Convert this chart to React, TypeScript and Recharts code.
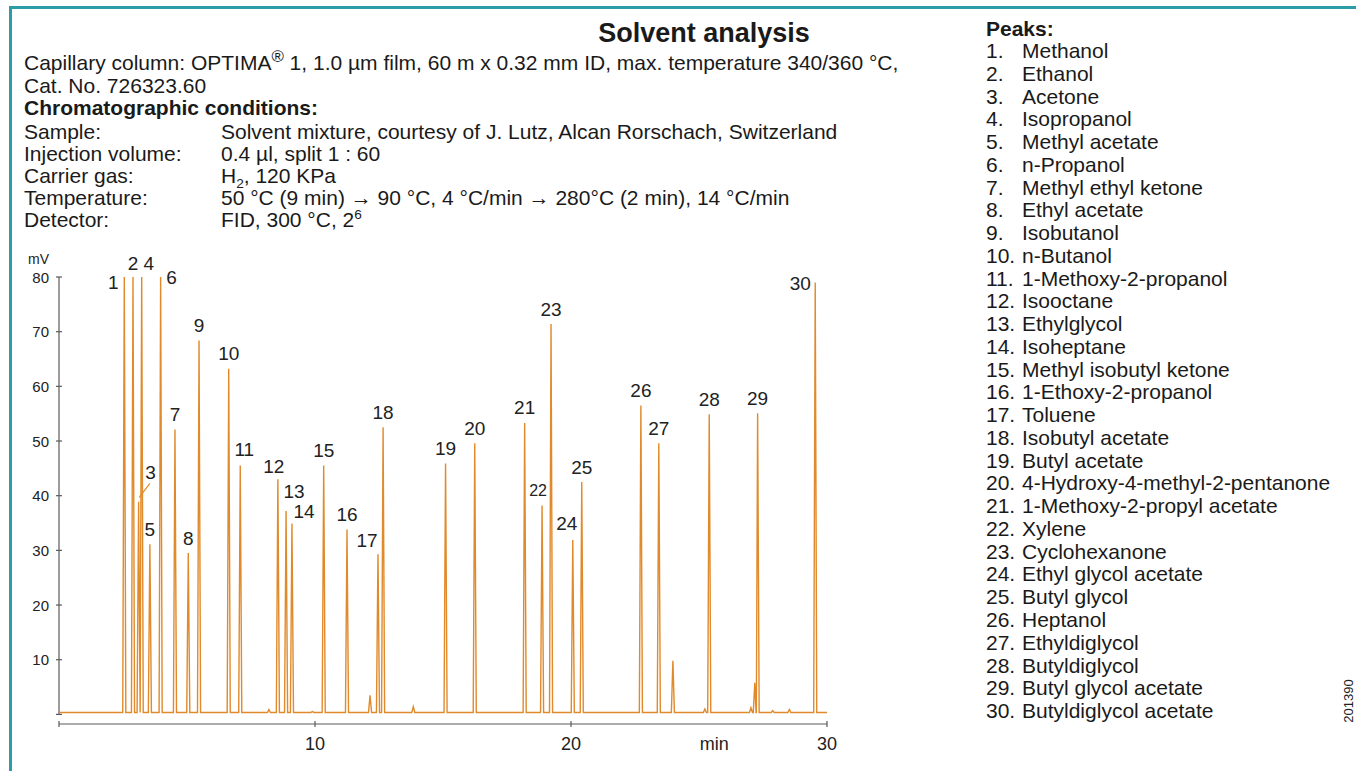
import React from "react";
import { ComposedChart, Line, Scatter, XAxis, YAxis, ReferenceLine } from "recharts";

// retention time (min) and height (mV) of the numbered peaks, 1..30
const peakTimes = [
  2.55, 2.89, 3.11, 3.23, 3.55, 3.97, 4.53, 5.05, 5.47, 6.63,
  7.08, 8.55, 8.87, 9.1, 10.34, 11.25, 12.46, 12.66, 15.1, 16.24,
  18.19, 18.87, 19.22, 20.07, 20.42, 22.73, 23.43, 25.4, 27.29, 29.54,
];
// 1, 2, 4 and 6 run off scale, drawn at the top of the axis
const peakHeights = [
  80, 80, 38.9, 80, 31.1, 80, 52.1, 29.5, 68.4, 63.2,
  45.5, 43.0, 37.2, 34.9, 45.5, 33.8, 29.3, 52.5, 45.9, 49.6,
  53.3, 38.2, 71.4, 31.9, 42.5, 56.5, 49.6, 54.9, 55.1, 79.0,
];
// small unnumbered peaks
const minorTimes = [8.2, 9.9, 12.15, 13.84, 23.98, 25.23, 27.03, 27.18, 27.88, 28.53];
const minorHeights = [0.9, 0.5, 3.5, 1.4, 9.8, 1.0, 1.2, 5.8, 0.7, 0.9];
const baseline = 0.35;

const peakNames = [
  "Methanol", "Ethanol", "Acetone", "Isopropanol", "Methyl acetate",
  "n-Propanol", "Methyl ethyl ketone", "Ethyl acetate", "Isobutanol", "n-Butanol",
  "1-Methoxy-2-propanol", "Isooctane", "Ethylglycol", "Isoheptane", "Methyl isobutyl ketone",
  "1-Ethoxy-2-propanol", "Toluene", "Isobutyl acetate", "Butyl acetate", "4-Hydroxy-4-methyl-2-pentanone",
  "1-Methoxy-2-propyl acetate", "Xylene", "Cyclohexanone", "Ethyl glycol acetate", "Butyl glycol",
  "Heptanol", "Ethyldiglycol", "Butyldiglycol", "Butyl glycol acetate", "Butyldiglycol acetate",
];

const yTicks = [0, 10, 20, 30, 40, 50, 60, 70, 80];
const xTicks = [0, 10, 20, 30];
const xUnitAt = 25.6;

// label offsets (px) from the peak top, default is straight above
const labelShift: Record<number, [number, number]> = {
  1: [-11, 5], 2: [0, -14], 3: [12, -29], 4: [7, -14], 6: [11, 0],
  11: [4, -16], 12: [-4, -13], 13: [8, -19], 14: [12, -12], 17: [-11, -14],
  22: [-4, -15], 24: [-6, -16], 30: [-15, 1],
};

const ORANGE = "#e08a2b";
const AXIS = "#5a5a5a";
const TEAL = "#2e9ca6";
const FONT = '"Liberation Sans", Arial, sans-serif';
const halfWidth = 0.06;

const peaks = peakTimes.map((t, i) => ({ t, v: peakHeights[i], n: i + 1 }));
const minors = minorTimes.map((t, i) => ({ t, v: minorHeights[i], n: 0 }));

const trace: { t: number; v: number }[] = [{ t: 0, v: baseline }];
[...peaks, ...minors].forEach((p) => {
  trace.push({ t: p.t - halfWidth, v: baseline }, { t: p.t, v: p.v }, { t: p.t + halfWidth, v: baseline });
});
trace.push({ t: 30, v: baseline });
trace.sort((a, b) => a.t - b.t);

const PeakLabel = (props: any) => {
  const { cx, cy, payload } = props;
  const n = payload.n;
  const [dx, dy] = labelShift[n] || [0, -15];
  return (
    <g>
      {n === 3 && <line x1={cx + 0.6} y1={cy - 4.4} x2={cx + 11.3} y2={cy - 18.4} stroke={ORANGE} strokeWidth={1.2} />}
      <text x={cx + dx} y={cy + dy} textAnchor="middle" dominantBaseline="central"
        fontSize={n === 22 ? 16 : 19} fontFamily={FONT} fill="#222">{n}</text>
    </g>
  );
};

const YTick = (props: any) => {
  const { x, y, payload } = props;
  return (
    <g>
      <line x1={x - 3} x2={x + 3} y1={y} y2={y} stroke={AXIS} strokeWidth={1.2} />
      {payload.value > 0 && (
        <text x={x - 10} y={y} textAnchor="end" dominantBaseline="central" fontSize={15} fontFamily={FONT} fill="#222">
          {payload.value}
        </text>
      )}
    </g>
  );
};

const XTick = (props: any) => {
  const { x, y, payload } = props;
  if (payload.value === xUnitAt) {
    return <text x={x} y={y + 20} textAnchor="middle" dominantBaseline="central" fontSize={18} fontFamily={FONT} fill="#222">min</text>;
  }
  return (
    <g>
      <line x1={x} x2={x} y1={y - 3} y2={y + 3} stroke={AXIS} strokeWidth={1.2} />
      {payload.value > 0 && (
        <text x={x} y={y + 20} textAnchor="middle" dominantBaseline="central" fontSize={18} fontFamily={FONT} fill="#222">
          {payload.value}
        </text>
      )}
    </g>
  );
};

const Txt = ({ x, y, size = 21, bold = false, children }: any) => (
  <div style={{ position: "absolute", left: x, top: y - 11, height: 22, lineHeight: "22px", fontSize: size,
    fontWeight: bold ? "bold" : "normal", whiteSpace: "nowrap", color: "#1a1a1a", fontFamily: FONT }}>
    {children}
  </div>
);

const supStyle: React.CSSProperties = { fontSize: "0.65em", verticalAlign: "baseline", position: "relative", top: "-0.6em", lineHeight: 0 };
const subStyle: React.CSSProperties = { fontSize: "0.65em", verticalAlign: "baseline", position: "relative", top: "0.35em", lineHeight: 0 };

const conditions: [string, React.ReactNode][] = [
  ["Sample:", "Solvent mixture, courtesy of J. Lutz, Alcan Rorschach, Switzerland"],
  ["Injection volume:", "0.4 µl, split 1 : 60"],
  ["Carrier gas:", <>H<span style={subStyle}>2</span>, 120 KPa</>],
  ["Temperature:", "50 °C (9 min) → 90 °C, 4 °C/min → 280°C (2 min), 14 °C/min"],
  ["Detector:", <>FID, 300 °C, 2<span style={supStyle}>6</span></>],
];

export default function App() {
  return (
    <div style={{ position: "absolute", left: 0, top: 0, width: 1356, height: 771, background: "#fff", overflow: "hidden", fontFamily: FONT }}>
      <div style={{ position: "absolute", left: 9, top: 6, width: 1400, height: 800, borderTop: `3px solid ${TEAL}`, borderLeft: `3px solid ${TEAL}` }} />

      <div style={{ position: "absolute", left: 454, width: 500, top: 18, textAlign: "center", fontSize: 27, fontWeight: "bold", lineHeight: "30px", color: "#1a1a1a" }}>
        Solvent analysis
      </div>
      <Txt x={24} y={63}>Capillary column: OPTIMA<span style={{ ...supStyle, fontSize: "0.8em", top: "-0.5em" }}>®</span> 1, 1.0 µm film, 60 m x 0.32 mm ID, max. temperature 340/360 °C,</Txt>
      <Txt x={24} y={86}>Cat. No. 726323.60</Txt>
      <Txt x={24} y={108} bold>Chromatographic conditions:</Txt>
      {conditions.map(([k, v], i) => (
        <React.Fragment key={k}>
          <Txt x={24} y={132 + i * 22}>{k}</Txt>
          <Txt x={221} y={132 + i * 22}>{v}</Txt>
        </React.Fragment>
      ))}

      <Txt x={986} y={29} bold>Peaks:</Txt>
      {peakNames.map((name, i) => (
        <React.Fragment key={name}>
          <Txt x={986} y={51 + i * 22.76}>{`${i + 1}.`}</Txt>
          <Txt x={1022} y={51 + i * 22.76}>{name}</Txt>
        </React.Fragment>
      ))}
      <div style={{ position: "absolute", left: 1348, top: 701, transform: "translate(-50%, -50%) rotate(-90deg)", fontSize: 13, color: "#222", whiteSpace: "nowrap" }}>
        201390
      </div>

      <div style={{ position: "absolute", left: 28, top: 251, fontSize: 14, color: "#222" }}>mV</div>

      <div style={{ position: "absolute", left: 0, top: 0 }}>
        <ComposedChart width={900} height={771} margin={{ top: 277, right: 73, bottom: 0, left: 0 }}>
          <XAxis dataKey="t" type="number" domain={[0, 30]} ticks={[...xTicks, xUnitAt]} interval={0} height={47}
            stroke={AXIS} axisLine={{ stroke: AXIS, strokeWidth: 1.2 }} tickLine={false} tickSize={0} tickMargin={0} tick={<XTick />} />
          <YAxis type="number" domain={[-1.76, 80]} ticks={yTicks} interval={0} width={59}
            axisLine={false} tickLine={false} tickSize={0} tickMargin={0} tick={<YTick />} />
          <ReferenceLine segment={[{ x: 0, y: 0 }, { x: 0, y: 80 }]} stroke={AXIS} strokeWidth={1.2} />
          <Line data={trace} dataKey="v" type="linear" stroke={ORANGE} strokeWidth={1.4} dot={false} isAnimationActive={false} />
          <Scatter data={peaks} dataKey="v" shape={<PeakLabel />} isAnimationActive={false} />
        </ComposedChart>
      </div>
    </div>
  );
}
